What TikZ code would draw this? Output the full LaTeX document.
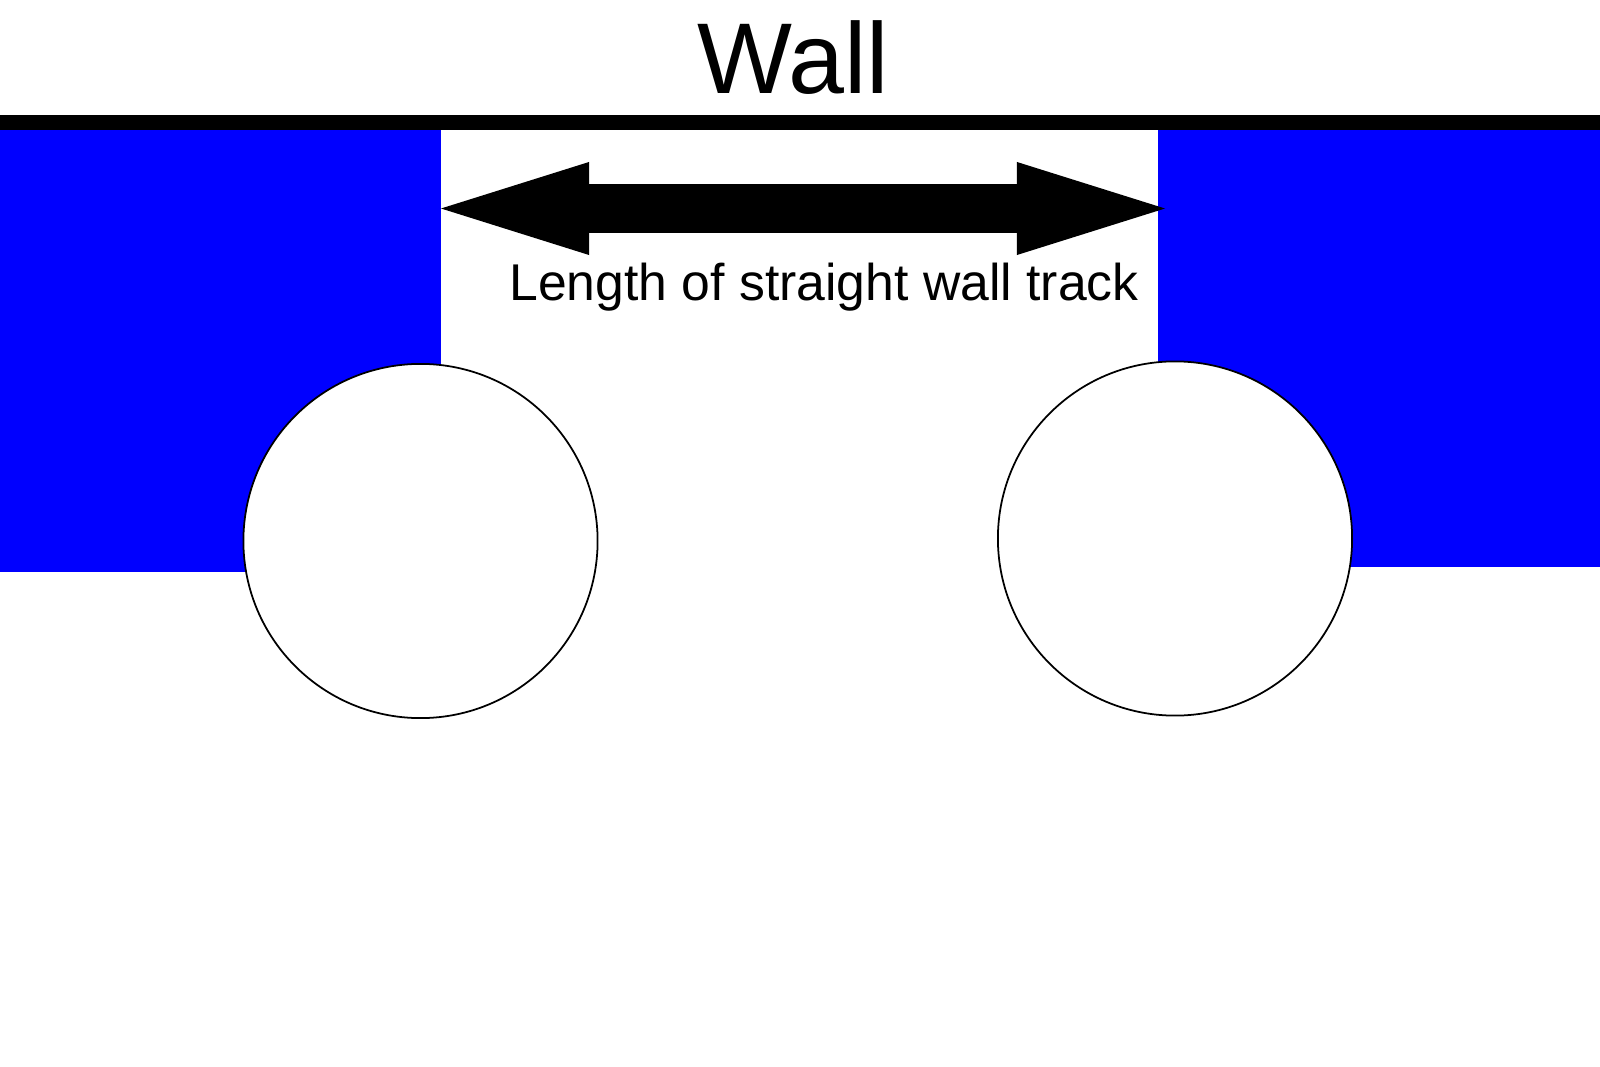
\documentclass[tikz,border=0pt]{standalone}
\usepackage{fontspec}
\setmainfont{Liberation Sans}
\usetikzlibrary{arrows.meta}

\begin{document}
\begin{tikzpicture}[x=0.01cm, y=-0.01cm,
       wheel/.style={circle, draw, line width=0.5pt, minimum size=3.54cm, inner sep=0pt, fill=white},
       block/.style={fill={rgb,255:red,0;green,0;blue,255}},
       fathead/.tip={Triangle[length=1.48cm, width=0.93cm, line width=0pt]}]
       \useasboundingbox (0,0) rectangle (1600,1067);

       % blue blocks either side of the track
       \fill[block] (0,130) rectangle (441,572);
       \fill[block] (1158,130) rectangle (1600,567);

       % the two wheels
       \node[wheel] (wheelL) at (420.5,541) {};
       \node[wheel] (wheelR) at (1175,538.5) {};

       % the wall
       \coordinate (wallL) at (0,122.5);
       \coordinate (wallR) at (1600,122.5);
       \draw[line width=0.15cm] (wallL) -- (wallR);
       \node[anchor=base, inner sep=0pt, font=\fontsize{28.6pt}{34pt}\selectfont] (walltext) at (793,94) {Wall};

       % length arrow
       \coordinate (tipL) at (441,208.5);
       \coordinate (tipR) at (1165,208.5);
       \draw[line width=0.49cm, fathead-fathead] (tipL) -- (tipR);
       \node[anchor=base, inner sep=0pt, font=\fontsize{14.7pt}{18pt}\selectfont] (lengthtext) at (824,301) {Length of straight wall track};

\end{tikzpicture}
\end{document}
